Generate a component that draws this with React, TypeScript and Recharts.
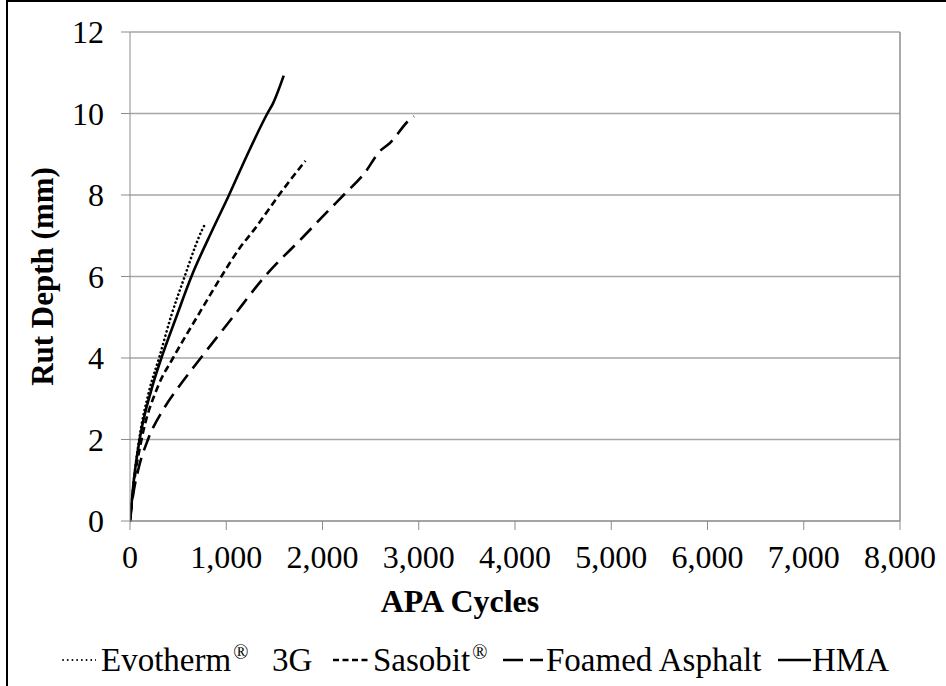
import React from 'react';
import { LineChart, Line, XAxis, YAxis, CartesianGrid, Legend, ReferenceLine, Label } from 'recharts';

// Rut depth (mm) against APA loading cycles for each mixture
const evothermCycles = [0, 40, 95, 200, 302, 430, 568, 680, 748, 787];
const evothermRut = [0, 1.0, 2.0, 3.2, 4.0, 5.05, 6.0, 6.75, 7.14, 7.31];

const sasobitCycles = [0, 40, 120, 290, 447, 695, 949, 1140, 1290, 1548, 1822];
const sasobitRut = [0, 0.9, 2.0, 3.3, 4.0, 5.0, 6.0, 6.7, 7.15, 8.0, 8.84];

const foamedCycles = [0, 30, 85, 187, 350, 509, 735, 1067, 1400, 1798, 2075, 2220, 2438, 2594, 2698, 2906, 2951];
const foamedRut = [0, 0.6, 1.25, 2.0, 2.75, 3.3, 4.0, 5.0, 6.0, 6.97, 7.65, 8.0, 8.54, 9.07, 9.27, 9.85, 9.93];

const hmaCycles = [0, 40, 100, 222, 326, 480, 638, 856, 1029, 1209, 1427, 1486, 1597];
const hmaRut = [0, 1.0, 2.0, 3.22, 4.0, 5.0, 6.0, 7.14, 8.0, 8.94, 10.0, 10.25, 10.93];

const xTicks = [0, 1000, 2000, 3000, 4000, 5000, 6000, 7000, 8000];
const yTicks = [0, 2, 4, 6, 8, 10, 12];

const toPoints = (xs: number[], ys: number[]) => xs.map((x, i) => ({ x, y: ys[i] }));

const FONT = '"Liberation Serif", "Times New Roman", serif';
const TICK_SIZE = 32;
const TITLE_SIZE = 32;
const LEGEND_SIZE = 33;
const GRID = '#a6a6a6';
const AXIS = '#8c8c8c';

const series = [
  { name: 'Evotherm', data: toPoints(evothermCycles, evothermRut), dash: '0.1 4.2', width: 2.6, cap: 'round' as const },
  { name: 'Sasobit', data: toPoints(sasobitCycles, sasobitRut), dash: '7 4', width: 2.6, cap: 'butt' as const },
  { name: 'Foamed Asphalt', data: toPoints(foamedCycles, foamedRut), dash: '16 8', width: 2.6, cap: 'butt' as const },
  { name: 'HMA', data: toPoints(hmaCycles, hmaRut), dash: undefined as string | undefined, width: 2.6, cap: 'butt' as const },
];

const fmt = (v: number) => v.toLocaleString('en-US');

const Sample = ({ dash, width, len, cap }: { dash?: string; width: number; len: number; cap?: 'round' | 'butt' }) => (
  <svg width={len} height={10} style={{ position: 'absolute', top: 15 }}>
    <line
      x1={cap === 'round' ? 1 : 0}
      y1={5}
      x2={len}
      y2={5}
      stroke="#000"
      strokeWidth={width}
      strokeDasharray={dash}
      strokeLinecap={cap || 'butt'}
    />
  </svg>
);

const textStyle: React.CSSProperties = {
  position: 'absolute',
  top: 0,
  lineHeight: '40px',
  fontFamily: FONT,
  fontSize: LEGEND_SIZE,
  color: '#000',
  whiteSpace: 'nowrap',
};

const supStyle: React.CSSProperties = { fontSize: 20, verticalAlign: 'super', lineHeight: 0, marginLeft: 2 };

const LegendContent = () => (
  <div style={{ position: 'relative', width: 946, height: 40 }}>
    <div style={{ position: 'absolute', left: 62 }}>
      <Sample dash="0.1 4.6" width={1.8} len={34} cap="round" />
    </div>
    <span style={{ ...textStyle, left: 101 }}>
      Evotherm<span style={supStyle}>®</span>
    </span>
    <span style={{ ...textStyle, left: 272 }}>3G</span>
    <div style={{ position: 'absolute', left: 333 }}>
      <Sample dash="6 3.5" width={2.4} len={38} />
    </div>
    <span style={{ ...textStyle, left: 373 }}>
      Sasobit<span style={supStyle}>®</span>
    </span>
    <div style={{ position: 'absolute', left: 503 }}>
      <Sample dash="20 7" width={2.6} len={40} />
    </div>
    <span style={{ ...textStyle, left: 546 }}>Foamed Asphalt</span>
    <div style={{ position: 'absolute', left: 778 }}>
      <Sample width={2.6} len={33} />
    </div>
    <span style={{ ...textStyle, left: 812 }}>HMA</span>
  </div>
);

export default function App() {
  return (
    <div
      style={{
        position: 'absolute',
        left: 0,
        top: 0,
        width: 946,
        height: 686,
        overflow: 'hidden',
        background: '#fff',
      }}
    >
      <div
        style={{
          position: 'absolute',
          left: 6,
          top: 0,
          width: 1000,
          height: 800,
          borderLeft: '2px solid #000',
          borderTop: '2px solid #000',
        }}
      />
      <LineChart
        width={946}
        height={686}
        margin={{ top: 32, right: 46, left: 30, bottom: 6 }}
        style={{ fontFamily: FONT }}
      >
        <CartesianGrid horizontal vertical={false} stroke={GRID} strokeWidth={1.5} />
        <XAxis
          type="number"
          dataKey="x"
          domain={[0, 8000]}
          ticks={xTicks}
          tickFormatter={fmt}
          height={119}
          tickSize={9}
          tickMargin={15}
          stroke={AXIS}
          tick={{ fill: '#000', fontSize: TICK_SIZE, fontFamily: FONT }}
          allowDataOverflow
        >
          <Label
            content={() => (
              <text
                x={460}
                y={612}
                textAnchor="middle"
                fontFamily={FONT}
                fontSize={TITLE_SIZE}
                fontWeight="bold"
                fill="#000"
              >
                APA Cycles
              </text>
            )}
          />
        </XAxis>
        <YAxis
          type="number"
          dataKey="y"
          domain={[0, 12]}
          ticks={yTicks}
          width={100}
          tickSize={9}
          tickMargin={17}
          stroke={AXIS}
          tick={{ fill: '#000', fontSize: TICK_SIZE, fontFamily: FONT }}
        >
          <Label
            content={({ viewBox }: any) => {
              const cy = viewBox.y + viewBox.height / 2;
              return (
                <text
                  transform={`translate(53,${cy}) rotate(-90)`}
                  textAnchor="middle"
                  fontFamily={FONT}
                  fontSize={31}
                  fontWeight="bold"
                  fill="#000"
                >
                  Rut Depth (mm)
                </text>
              );
            }}
          />
        </YAxis>
        <ReferenceLine x={8000} stroke={AXIS} strokeWidth={1.5} />
        {series.map((s) => (
          <Line
            key={s.name}
            data={s.data}
            dataKey="y"
            name={s.name}
            type="monotone"
            stroke="#000"
            strokeWidth={s.width}
            strokeDasharray={s.dash}
            strokeLinecap={s.cap}
            dot={false}
            activeDot={false}
            isAnimationActive={false}
          />
        ))}
        <Legend
          verticalAlign="bottom"
          wrapperStyle={{ left: 0, width: 946, bottom: 6 }}
          content={() => <LegendContent />}
        />
      </LineChart>
    </div>
  );
}
